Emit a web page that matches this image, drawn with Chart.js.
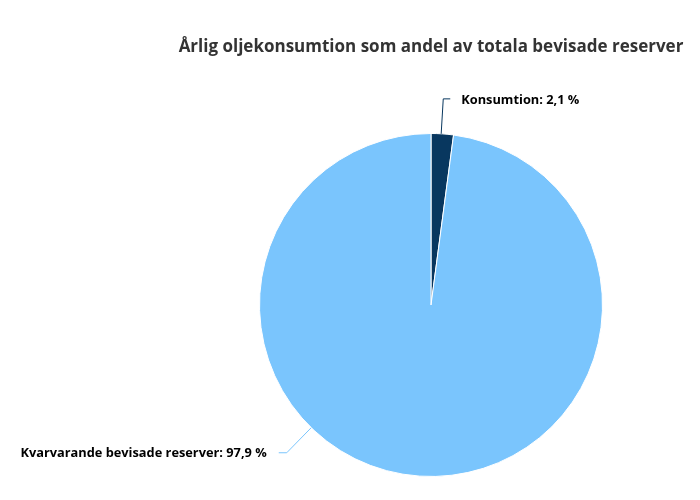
<!DOCTYPE html>
<html>
<head>
<meta charset="utf-8">
<script src="https://cdn.jsdelivr.net/npm/chart.js@4.4.1/dist/chart.umd.min.js"></script>
<style>
  html, body { margin: 0; padding: 0; background: #fff; }
  #wrap { width: 700px; height: 500px; }
</style>
</head>
<body>
<div id="wrap"><canvas id="chart"></canvas></div>
<script>
// data
const labels = ["Konsumtion", "Kvarvarande bevisade reserver"];
const shares = [2.1, 97.9];
const colors = ["#08375f", "#7ac5fd"];
const titleText = "Årlig oljekonsumtion som andel av totala bevisade reserver";

// where along each slice the leader line starts (0..1 of the arc)
const anchorFrac = [0.45, 0.615];

const outsideLabels = {
  id: "outsideLabels",
  afterDraw(c) {
    const ctx = c.ctx;
    ctx.save();
    // title
    ctx.fillStyle = "#333";
    ctx.font = "bold 17px 'Open Sans'";
    ctx.textAlign = "center";
    ctx.textBaseline = "middle";
    ctx.fillText(titleText, 431, 47);

    const meta = c.getDatasetMeta(0);
    meta.data.forEach((arc, i) => {
      const p = arc.getProps(["x", "y", "startAngle", "endAngle", "outerRadius"], true);
      const a = p.startAngle + (p.endAngle - p.startAngle) * anchorFrac[i];
      const cos = Math.cos(a), sin = Math.sin(a);
      const x0 = p.x + cos * p.outerRadius;
      const y0 = p.y + sin * p.outerRadius;
      const x1 = p.x + cos * (p.outerRadius + 35);
      const y1 = p.y + sin * (p.outerRadius + 35);
      const right = cos >= 0;
      const x2 = x1 + (right ? 7 : -8);
      ctx.strokeStyle = colors[i];
      ctx.lineWidth = 1;
      ctx.beginPath();
      ctx.moveTo(x0, y0);
      ctx.lineTo(x1, y1);
      ctx.lineTo(x2, y1);
      ctx.stroke();

      ctx.fillStyle = "#000";
      ctx.font = "bold 12.8px 'Open Sans'";
      ctx.textAlign = right ? "left" : "right";
      ctx.fillText(labels[i] + ": " + shares[i].toFixed(1).replace(".", ",") + " %", x2 + (right ? 11 : -12), y1 + 1);
    });
    ctx.restore();
  }
};

new Chart(document.getElementById("chart"), {
  type: "pie",
  data: {
    labels: labels,
    datasets: [{
      data: shares,
      backgroundColor: colors,
      borderColor: "#ffffff",
      borderWidth: 1
    }]
  },
  options: {
    responsive: true,
    maintainAspectRatio: false,
    animation: false,
    layout: { padding: { top: 133, bottom: 23, left: 259, right: 97 } },
    plugins: {
      legend: { display: false },
      tooltip: { enabled: false }
    }
  },
  plugins: [outsideLabels]
});
</script>
</body>
</html>
